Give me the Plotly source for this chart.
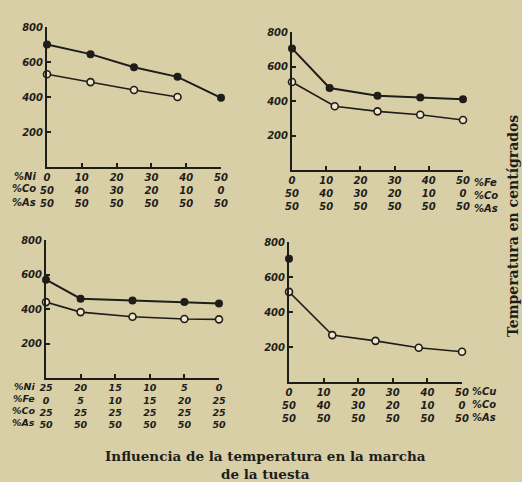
import plotly.graph_objects as go

W, H = 522, 482

# ---------------- data ----------------
# Panel 1: Ni-Co-As
p1_x_filled = [0, 12.5, 25, 37.5, 50]
p1_filled = [700, 645, 570, 515, 395]
p1_x_open = [0, 12.5, 25, 37.5]
p1_open = [530, 485, 440, 400]
p1_ni = [0, 10, 20, 30, 40, 50]
p1_co = [50, 40, 30, 20, 10, 0]
p1_as = [50, 50, 50, 50, 50, 50]

# Panel 2: Fe-Co-As
p2_x_filled = [0, 11, 25, 37.5, 50]
p2_filled = [705, 475, 430, 420, 410]
p2_x_open = [0, 12.5, 25, 37.5, 50]
p2_open = [510, 370, 340, 320, 290]
p2_fe = [0, 10, 20, 30, 40, 50]
p2_co = [50, 40, 30, 20, 10, 0]
p2_as = [50, 50, 50, 50, 50, 50]

# Panel 3: Ni-Fe-Co-As
p3_x_filled = [0, 5, 12.5, 20, 25]
p3_filled = [570, 460, 450, 440, 432]
p3_x_open = [0, 5, 12.5, 20, 25]
p3_open = [440, 382, 355, 342, 340]
p3_ni = [25, 20, 15, 10, 5, 0]
p3_fe = [0, 5, 10, 15, 20, 25]
p3_co = [25, 25, 25, 25, 25, 25]
p3_as = [50, 50, 50, 50, 50, 50]

# Panel 4: Cu-Co-As
p4_x_filled = [0]
p4_filled = [705]
p4_x_open = [0, 12.5, 25, 37.5, 50]
p4_open = [515, 268, 235, 196, 173]
p4_cu = [0, 10, 20, 30, 40, 50]
p4_co = [50, 40, 30, 20, 10, 0]
p4_as = [50, 50, 50, 50, 50, 50]

y_ticks = [200, 400, 600, 800]

BG = "#d9cfa6"
INK = "#1e1d1a"


def xdom(a, b):
    return [a / W, b / W]


def ydom(top, bottom):
    return [1 - bottom / H, 1 - top / H]


def ticktext(*rows):
    return ["<br>".join(str(r[i]) for r in rows) for i in range(len(rows[0]))]


fig = go.Figure()


def add_series(n, xf, yf, xo, yo):
    xa = "x" if n == 1 else f"x{n}"
    ya = "y" if n == 1 else f"y{n}"
    fig.add_trace(go.Scatter(x=xo, y=yo, xaxis=xa, yaxis=ya, mode="lines+markers",
                             line=dict(color=INK, width=1.6), cliponaxis=False,
                             marker=dict(symbol="circle", size=7, color="#eee6c8",
                                         line=dict(color=INK, width=1.6)),
                             showlegend=False))
    fig.add_trace(go.Scatter(x=xf, y=yf, xaxis=xa, yaxis=ya, mode="lines+markers",
                             line=dict(color=INK, width=2), cliponaxis=False,
                             marker=dict(symbol="circle", size=8, color=INK),
                             showlegend=False))


add_series(1, p1_x_filled, p1_filled, p1_x_open, p1_open)
add_series(2, p2_x_filled, p2_filled, p2_x_open, p2_open)
add_series(3, p3_x_filled, p3_filled, p3_x_open, p3_open)
add_series(4, p4_x_filled, p4_filled, p4_x_open, p4_open)

tickfont = dict(family="DejaVu Sans", size=10, color=INK, style="italic", weight="bold")

common_x = dict(showgrid=False, zeroline=False, showline=True, linewidth=2, linecolor=INK,
                ticks="inside", ticklen=4, tickwidth=1.5, tickcolor=INK, tickfont=tickfont,
                fixedrange=True, automargin=False)
common_y = dict(showgrid=False, zeroline=False, showline=True, linewidth=2, linecolor=INK,
                ticks="inside", ticklen=4, tickwidth=1.5, tickcolor=INK, tickfont=tickfont,
                range=[0, 800], tickvals=y_ticks, ticktext=[str(v) for v in y_ticks],
                fixedrange=True, automargin=False)

layout = dict(
    width=W, height=H, margin=dict(l=0, r=0, t=0, b=0, autoexpand=False),
    paper_bgcolor=BG, plot_bgcolor="rgba(0,0,0,0)", showlegend=False,
    xaxis=dict(common_x, domain=xdom(47, 221), range=[0, 50], anchor="y",
               tickvals=[0, 10, 20, 30, 40, 50], ticktext=ticktext(p1_ni, p1_co, p1_as)),
    yaxis=dict(common_y, domain=ydom(27, 167), anchor="x"),
    xaxis2=dict(common_x, domain=xdom(292, 463), range=[0, 50], anchor="y2",
                tickvals=[0, 10, 20, 30, 40, 50], ticktext=ticktext(p2_fe, p2_co, p2_as)),
    yaxis2=dict(common_y, domain=ydom(32, 170), anchor="x2"),
    xaxis3=dict(common_x, domain=xdom(46, 219), range=[0, 25], anchor="y3",
                tickvals=[0, 5, 10, 15, 20, 25], ticktext=ticktext(p3_ni, p3_fe, p3_co, p3_as),
                tickfont=dict(tickfont, size=9.5)),
    yaxis3=dict(common_y, domain=ydom(240, 378), anchor="x3"),
    xaxis4=dict(common_x, domain=xdom(289, 462), range=[0, 50], anchor="y4",
                tickvals=[0, 10, 20, 30, 40, 50], ticktext=ticktext(p4_cu, p4_co, p4_as)),
    yaxis4=dict(common_y, domain=ydom(242, 382), anchor="x4"),
)
fig.update_layout(**layout)

lab_font = dict(family="DejaVu Sans", size=10, color=INK, style="italic", weight="bold")


def row_labels(labels, x_px, y0_px, dy, anchor, size=10):
    for i, t in enumerate(labels):
        fig.add_annotation(text=t, xref="paper", yref="paper", x=x_px / W,
                           y=1 - (y0_px + i * dy) / H, showarrow=False,
                           xanchor=anchor, yanchor="middle", font=dict(lab_font, size=size))


row_labels(["%Ni", "%Co", "%As"], 38, 176, 13, "right")
row_labels(["%Fe", "%Co", "%As"], 472, 182, 13, "left")
row_labels(["%Ni", "%Fe", "%Co", "%As"], 37, 386, 12.3, "right", 9.5)
row_labels(["%Cu", "%Co", "%As"], 470, 391, 13, "left")

title_font = dict(family="DejaVu Serif", size=13.5, color=INK, weight="bold")
fig.add_annotation(text="Influencia de la temperatura en la marcha",
                   xref="paper", yref="paper", x=265 / W, y=1 - 456 / H, showarrow=False,
                   xanchor="center", yanchor="middle", font=title_font)
fig.add_annotation(text="de la tuesta",
                   xref="paper", yref="paper", x=265 / W, y=1 - 474 / H, showarrow=False,
                   xanchor="center", yanchor="middle", font=title_font)

fig.add_annotation(text="<b>Temperatura en centígrados</b>", xref="paper", yref="paper",
                   x=513 / W, y=1 - 226 / H, showarrow=False, textangle=-90,
                   xanchor="center", yanchor="middle",
                   font=dict(family="DejaVu Serif", size=14, color=INK))

fig.write_html("out.html", config={"displayModeBar": False},
               post_script="document.body.style.margin='0';")
